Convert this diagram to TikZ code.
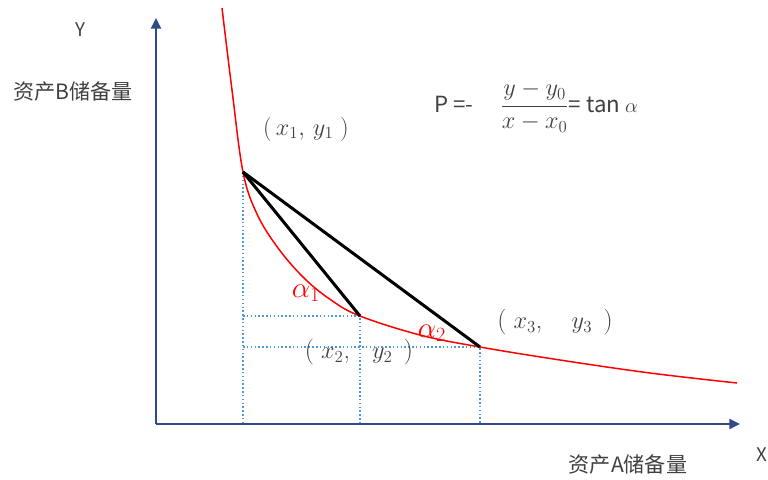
\documentclass[tikz,border=0pt]{standalone}
\usepackage{fontspec}
\usepackage{amsmath}
\newfontfamily\cjkfont{Noto Sans CJK SC}
\usepackage{tikz}
\usetikzlibrary{arrows.meta,positioning}
\definecolor{axisblue}{HTML}{2F4B85}
\definecolor{dotblue}{HTML}{4A9AD8}
\definecolor{labelgray}{HTML}{404040}

\begin{document}
\begin{tikzpicture}[x=0.3mm, y=-0.3mm,
  axis/.style={draw=axisblue, line width=0.7mm, -{Triangle[length=3.2mm,width=3mm]}},
  chord/.style={draw=black, line width=0.9mm},
  guide/.style={draw=dotblue, line width=0.45mm, dotted},
  txt/.style={text=labelgray, font=\cjkfont\fontsize{18}{21}\selectfont, inner sep=0pt},
  axlab/.style={text=labelgray, font=\cjkfont\fontsize{16}{19}\selectfont, inner sep=0pt},
  pt/.style={text=labelgray, font=\fontsize{22}{26}\selectfont, inner sep=0pt},
  angle/.style={text=red, font=\fontsize{27}{31}\selectfont, inner sep=0pt}
]
\useasboundingbox (0,0) rectangle (768,479);

% axes
\coordinate (O) at (156,424);
\coordinate (Ytip) at (156,18);
\coordinate (Xtip) at (740,424);
\draw[axis] (O) -- (Ytip);
\draw[axis] (O) -- (Xtip);

% points on the curve
\coordinate (P1) at (243,172);
\coordinate (P2) at (360,316);
\coordinate (P3) at (480,347);

% guide lines
\draw[guide] (P1) -- (P1 |- O);
\draw[guide] (P1 |- P2) -- (P2) -- (P2 |- O);
\draw[guide] (P1 |- P3) -- (P3) -- (P3 |- O);

% curve
\draw[red, line width=0.45mm] plot[smooth, tension=0.6] coordinates
  {(222,8) (232,90) (243,172) (257,214) (278,248) (304,278) (331,300)
   (360,316) (420,335) (480,347) (560,360) (650,373) (737,383)};

% chords
\draw[chord] (P1) -- (P2);
\draw[chord] (P1) -- (P3);

% labels
\node[axlab] (ylab) at (80,30) {Y};
\node[txt] (yname) at (73,92) {资产B储备量};
\node[txt] (xname) at (628,465) {资产A储备量};
\node[axlab, anchor=east] (xlab) at (767,455) {X};
\node[txt, font=\cjkfont\fontsize{19}{22}\selectfont] (price) at (536,107)
  {P =- \quad{\fontsize{21}{24}\selectfont$\dfrac{y-y_0}{x-x_0}$}= tan $\alpha$};
\node[pt] (c1) at (306,129) {$(\,x_1,\,y_1\;)$};
\node[pt] (c2) at (359,352) {(\;$x_2$,\;\; $y_2$\;\,)};
\node[pt] (c3) at (555,322) {(\;$x_3$,\;\;\; $y_3$\;\,)};
\node[angle] (a1) at (306,293) {$\alpha_1$};
\node[angle] (a2) at (432,333) {$\alpha_2$};
\end{tikzpicture}
\end{document}
